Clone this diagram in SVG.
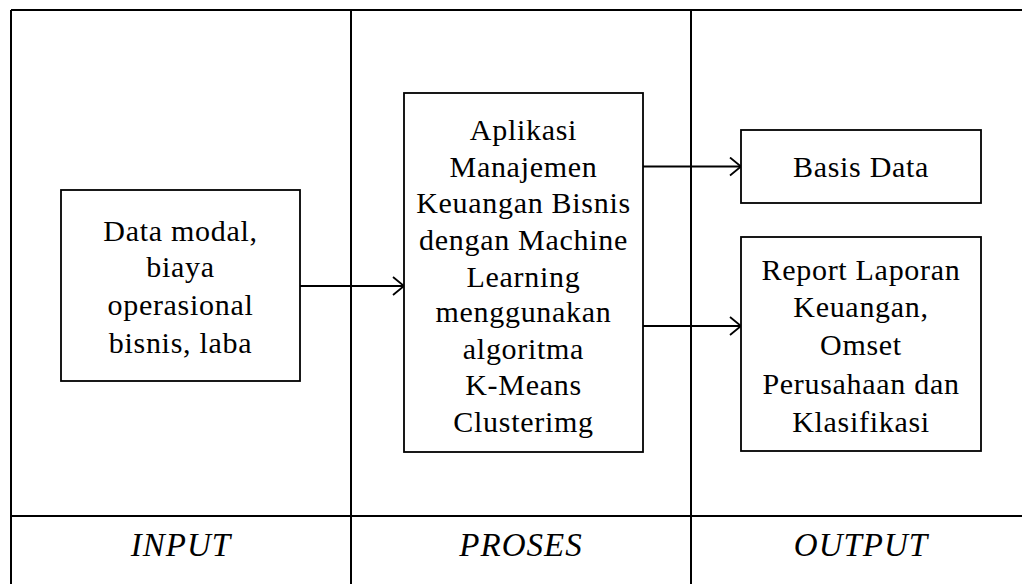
<svg xmlns="http://www.w3.org/2000/svg" width="1022" height="584" viewBox="0 0 1022 584">
  <style>
    .frame { stroke: #000; stroke-width: 2; fill: none; }
    .box { stroke: #000; stroke-width: 1.8; fill: #fff; }
    .wire { stroke: #000; stroke-width: 1.8; fill: none; }
    .txt { font-family: "Liberation Serif", "Times New Roman", serif; font-size: 30px; letter-spacing: 0.7px; fill: #000; text-anchor: middle; }
    .head { font-family: "Liberation Serif", "Times New Roman", serif; font-size: 33px; font-style: italic; letter-spacing: 1px; fill: #000; text-anchor: middle; }
  </style>
  <defs>
    <marker id="open" markerUnits="userSpaceOnUse" markerWidth="16" markerHeight="24" refX="12" refY="10" orient="auto">
      <path d="M1,1 L12,10 L1,19" fill="none" stroke="#000" stroke-width="1.8"/>
    </marker>
  </defs>

  <rect width="1022" height="584" fill="#fff"/>

  <!-- table grid: three columns with a caption row -->
  <g id="grid">
    <path class="frame" d="M11,10 H1022 M11,10 V584 M351,10 V584 M691,10 V584 M11,516 H1022"/>
    <text class="head" x="181" y="556">INPUT</text>
    <text class="head" x="521" y="556">PROSES</text>
    <text class="head" x="861" y="556">OUTPUT</text>
  </g>

  <!-- connectors -->
  <g id="connectors">
    <line class="wire" x1="300" y1="286" x2="404" y2="286" marker-end="url(#open)"/>
    <line class="wire" x1="643" y1="166.5" x2="741" y2="166.5" marker-end="url(#open)"/>
    <line class="wire" x1="643" y1="326" x2="741" y2="326" marker-end="url(#open)"/>
  </g>

  <g id="input-data">
    <rect class="box" x="61" y="190" width="239" height="191"/>
    <text class="txt" x="180.5" y="240.5">Data modal,</text>
    <text class="txt" x="180.5" y="277">biaya</text>
    <text class="txt" x="180.5" y="315">operasional</text>
    <text class="txt" x="180.5" y="352.5">bisnis, laba</text>
  </g>

  <g id="aplikasi">
    <rect class="box" x="404" y="93" width="239" height="359"/>
    <text class="txt" x="523.5" y="140">Aplikasi</text>
    <text class="txt" x="523.5" y="176.5">Manajemen</text>
    <text class="txt" x="523.5" y="213">Keuangan Bisnis</text>
    <text class="txt" x="523.5" y="250">dengan Machine</text>
    <text class="txt" x="523.5" y="286.5">Learning</text>
    <text class="txt" x="523.5" y="322">menggunakan</text>
    <text class="txt" x="523.5" y="358.5">algoritma</text>
    <text class="txt" x="523.5" y="395">K-Means</text>
    <text class="txt" x="523.5" y="431.5">Clusterimg</text>
  </g>

  <g id="basis-data">
    <rect class="box" x="741" y="130" width="240" height="73"/>
    <text class="txt" x="861" y="177">Basis Data</text>
  </g>

  <g id="report">
    <rect class="box" x="741" y="237" width="240" height="214"/>
    <text class="txt" x="861" y="280">Report Laporan</text>
    <text class="txt" x="861" y="317">Keuangan,</text>
    <text class="txt" x="861" y="355">Omset</text>
    <text class="txt" x="861" y="394">Perusahaan dan</text>
    <text class="txt" x="861" y="431.5">Klasifikasi</text>
  </g>
</svg>
